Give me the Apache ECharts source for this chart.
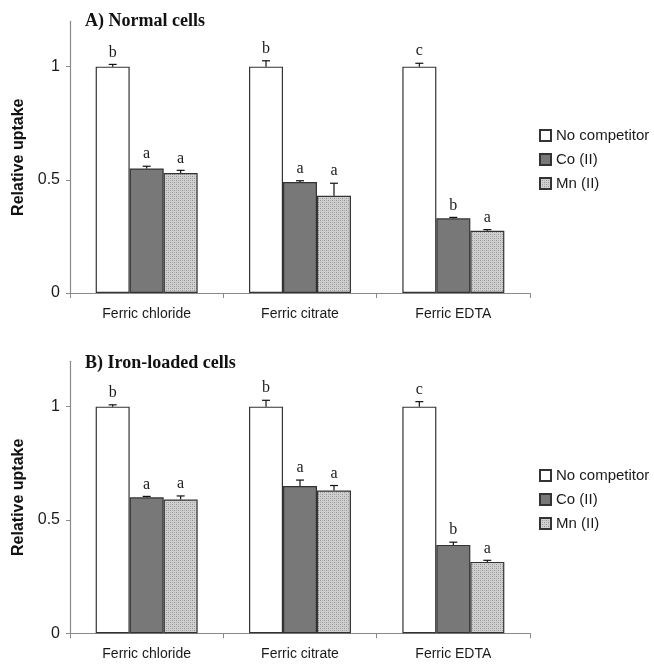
<!DOCTYPE html>
<html>
<head>
<meta charset="utf-8">
<script src="https://cdn.jsdelivr.net/npm/echarts@6/dist/echarts.min.js"></script>
<style>
  html, body { margin: 0; padding: 0; background: #fff; }
  #chart { width: 654px; height: 664px; }
</style>
</head>
<body>
<div id="chart"></div>
<script>
// Iron uptake relative to the no-competitor control, two cell states
const categories = ['Ferric chloride', 'Ferric citrate', 'Ferric EDTA'];
const seriesNames = ['No competitor', 'Co (II)', 'Mn (II)'];
const yTicks = [0, 0.5, 1];

// A) Normal cells
const normalNone = [1.0, 1.0, 1.0];
const normalCo = [0.55, 0.49, 0.33];
const normalMn = [0.53, 0.43, 0.275];
const normalNoneErr = [0.01, 0.026, 0.015];
const normalCoErr = [0.01, 0.006, 0.004];
const normalMnErr = [0.012, 0.055, 0.005];
const normalNoneLetters = ['b', 'b', 'c'];
const normalCoLetters = ['a', 'a', 'b'];
const normalMnLetters = ['a', 'a', 'a'];

// B) Iron-loaded cells
const ironNone = [1.0, 1.0, 1.0];
const ironCo = [0.60, 0.65, 0.39];
const ironMn = [0.59, 0.63, 0.315];
const ironNoneErr = [0.008, 0.028, 0.022];
const ironCoErr = [0.004, 0.026, 0.012];
const ironMnErr = [0.016, 0.022, 0.007];
const ironNoneLetters = ['b', 'b', 'c'];
const ironCoLetters = ['a', 'a', 'b'];
const ironMnLetters = ['a', 'a', 'a'];

const CAT_GAP = 0.335;
const SANS = '"Liberation Sans", Arial, sans-serif';
const SERIF = '"Liberation Serif", "Times New Roman", serif';

// fine stipple fill for the Mn (II) bars
function stipple() {
  const c = document.createElement('canvas');
  c.width = 4; c.height = 4;
  const g = c.getContext('2d');
  g.fillStyle = '#d0d0d0';
  g.fillRect(0, 0, 4, 4);
  g.fillStyle = '#949494';
  g.fillRect(0, 0, 1, 1);
  g.fillRect(2, 2, 1, 1);
  g.fillStyle = '#b0b0b0';
  g.fillRect(2, 0, 1, 1);
  g.fillRect(0, 2, 1, 1);
  return c;
}
const mnFill = { image: stipple(), repeat: 'repeat' };
const fills = ['#ffffff', '#787878', mnFill];

function barSeries(gridIdx, values) {
  return values.map((vals, i) => ({
    name: seriesNames[i],
    type: 'bar',
    xAxisIndex: gridIdx,
    yAxisIndex: gridIdx,
    barGap: '0%',
    barCategoryGap: (CAT_GAP * 100) + '%',
    data: vals,
    itemStyle: { color: fills[i], borderColor: '#333333', borderWidth: 1.2 },
    emphasis: { disabled: true },
    z: 2
  }));
}

function errorSeries(gridIdx, values, errs, letters) {
  const data = [];
  const labels = [];
  values.forEach((vals, s) => {
    vals.forEach((v, c) => {
      data.push([c, s, v, errs[s][c]]);
      labels.push(letters[s][c]);
    });
  });
  return {
    type: 'custom',
    xAxisIndex: gridIdx,
    yAxisIndex: gridIdx,
    encode: { x: 0, y: 2 },
    data: data,
    z: 5,
    silent: true,
    renderItem: function (params, api) {
      const c = api.value(0), s = api.value(1), v = api.value(2), e = api.value(3);
      const catW = api.size([1, 0])[0];
      const bw = catW * (1 - CAT_GAP) / 3;
      const base = api.coord([c, v]);
      const hi = api.coord([c, v + e]);
      const x = base[0] + (s - 1) * bw;
      const style = { stroke: '#111', lineWidth: 1.2 };
      return {
        type: 'group',
        children: [
          { type: 'line', shape: { x1: x, y1: base[1], x2: x, y2: hi[1] }, style: style },
          { type: 'line', shape: { x1: x - 4, y1: hi[1], x2: x + 4, y2: hi[1] }, style: style },
          {
            type: 'text',
            style: {
              x: x, y: hi[1] - 4,
              text: labels[params.dataIndex],
              font: '16px ' + SERIF,
              fill: '#1a1a1a',
              align: 'center',
              verticalAlign: 'bottom'
            }
          }
        ]
      };
    }
  };
}

function xAxis(gridIdx) {
  return {
    type: 'category',
    gridIndex: gridIdx,
    data: categories,
    axisLine: { lineStyle: { color: '#8a8a8a', width: 1.2 } },
    axisTick: { show: true, length: 5, lineStyle: { color: '#8a8a8a' } },
    axisLabel: { fontFamily: SANS, fontSize: 14, color: '#1a1a1a', margin: 14 }
  };
}

function yAxis(gridIdx) {
  return {
    type: 'value',
    gridIndex: gridIdx,
    min: 0,
    max: 1.2,
    name: 'Relative uptake',
    nameLocation: 'middle',
    nameGap: 43,
    nameTextStyle: { fontFamily: SANS, fontSize: 16, fontWeight: 'bold', color: '#111' },
    axisLine: { show: true, lineStyle: { color: '#8a8a8a', width: 1.2 } },
    axisTick: { show: true, length: 4, customValues: yTicks, lineStyle: { color: '#8a8a8a' } },
    axisLabel: { customValues: yTicks, fontFamily: SANS, fontSize: 16, color: '#1a1a1a', margin: 10 },
    splitLine: { show: false }
  };
}

function legend(top) {
  return {
    left: 534,
    top: top,
    orient: 'vertical',
    icon: 'rect',
    itemWidth: 11,
    itemHeight: 11,
    itemGap: 9,
    selectedMode: false,
    data: seriesNames,
    textStyle: { fontFamily: SANS, fontSize: 15, color: '#1a1a1a', lineHeight: 15 }
  };
}

const chart = echarts.init(document.getElementById('chart'), null, { renderer: 'canvas' });
chart.setOption({
  animation: false,
  backgroundColor: '#ffffff',
  title: [
    { text: 'A) Normal cells', left: 85, top: 12, padding: 0,
      textStyle: { fontFamily: SERIF, fontSize: 18, fontWeight: 'bold', color: '#111' } },
    { text: 'B) Iron-loaded cells', left: 85, top: 354, padding: 0,
      textStyle: { fontFamily: SERIF, fontSize: 18, fontWeight: 'bold', color: '#111' } }
  ],
  legend: [legend(123), legend(463)],
  grid: [
    { left: 70, width: 460, top: 21.4, height: 271.6 },
    { left: 70, width: 460, top: 361.3, height: 272 }
  ],
  xAxis: [xAxis(0), xAxis(1)],
  yAxis: [yAxis(0), yAxis(1)],
  series: [].concat(
    barSeries(0, [normalNone, normalCo, normalMn]),
    barSeries(1, [ironNone, ironCo, ironMn]),
    [
      errorSeries(0, [normalNone, normalCo, normalMn],
        [normalNoneErr, normalCoErr, normalMnErr],
        [normalNoneLetters, normalCoLetters, normalMnLetters]),
      errorSeries(1, [ironNone, ironCo, ironMn],
        [ironNoneErr, ironCoErr, ironMnErr],
        [ironNoneLetters, ironCoLetters, ironMnLetters])
    ]
  )
});
</script>
</body>
</html>
